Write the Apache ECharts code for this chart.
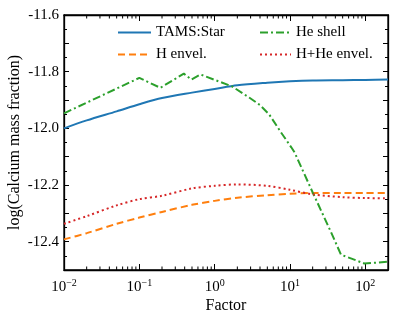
<!DOCTYPE html>
<html>
<head>
<meta charset="utf-8">
<script src="https://cdn.jsdelivr.net/npm/echarts@6/dist/echarts.min.js"></script>
<style>
  html, body { margin: 0; padding: 0; background: #fff; }
  #main { width: 396px; height: 321px; }
</style>
</head>
<body>
<div id="main"></div>
<script>
// data
var seriesNames = ['TAMS:Star', 'H envel.', 'He shell', 'H+He envel.'];
var tamsX = [0.01, 0.02, 0.05, 0.1, 0.2, 0.5, 1, 2, 5, 10, 20, 50, 100, 200];
var tamsY = [-12.0, -11.972, -11.94, -11.915, -11.893, -11.874, -11.861, -11.848, -11.839, -11.834, -11.831, -11.83, -11.829, -11.828];
var hEnvX = [0.01, 0.02, 0.05, 0.1, 0.2, 0.5, 1, 2, 5, 10, 20, 50, 100, 200];
var hEnvY = [-12.392, -12.37, -12.337, -12.315, -12.295, -12.27, -12.256, -12.245, -12.236, -12.231, -12.228, -12.228, -12.228, -12.228];
var heShellX = [0.01, 0.1, 0.19, 0.39, 0.49, 0.65, 1.7, 2.9, 4, 5.3, 7.9, 10.4, 11.5, 20, 35, 47.6, 97, 200];
var heShellY = [-11.947, -11.822, -11.857, -11.807, -11.828, -11.81, -11.852, -11.892, -11.918, -11.951, -12.021, -12.067, -12.085, -12.226, -12.366, -12.446, -12.477, -12.471];
var hHeEnvX = [0.01, 0.02, 0.05, 0.1, 0.2, 0.5, 1, 2, 5, 10, 20, 50, 100, 200];
var hHeEnvY = [-12.337, -12.31, -12.272, -12.25, -12.238, -12.212, -12.203, -12.198, -12.203, -12.217, -12.233, -12.243, -12.246, -12.247];
var yTickLabels = ['-12.4', '-12.2', '-12.0', '-11.8', '-11.6'];

var xMin = 0.01, xMax = 200, yMin = -12.5, yMax = -11.6;
var serif = 'Liberation Serif';
var colors = ['#1f77b4', '#ff7f0e', '#2ca02c', '#d62728'];

function pairs(xs, ys) {
  return xs.map(function (x, i) { return [x, ys[i]]; });
}

// minor tick positions of the log axis (2..9 in each decade)
var minorX = [];
for (var e = -2; e <= 2; e++) {
  for (var k = 2; k <= 9; k++) {
    var v = k * Math.pow(10, e);
    if (v < xMax) minorX.push([v, yMin]);
  }
}

var myChart = echarts.init(document.getElementById('main'));

function lineSeries(name, data, color, type, smooth) {
  return {
    name: name,
    type: 'line',
    data: data,
    showSymbol: false,
    symbol: 'none',
    smooth: smooth,
    color: color,
    lineStyle: { color: color, width: 2, type: type },
    z: 3
  };
}

var legendText = { fontFamily: serif, fontSize: 15, color: '#000' };

var option = {
  animation: false,
  grid: { left: 64, right: 8, top: 15, bottom: 51, outerBoundsMode: 'none', containLabel: false,
          show: true, borderColor: '#000', borderWidth: 1.3 },
  legend: [
    {
      data: ['TAMS:Star', 'H envel.'],
      orient: 'vertical', left: 112, top: 20, itemWidth: 33, itemHeight: 14, itemGap: 7,
      itemStyle: { opacity: 0 },
      textStyle: legendText
    },
    {
      data: ['He shell', 'H+He envel.'],
      orient: 'vertical', left: 254, top: 20, itemWidth: 31, itemHeight: 14, itemGap: 7,
      itemStyle: { opacity: 0 },
      textStyle: legendText
    }
  ],
  xAxis: [
    {
      type: 'log', logBase: 10, min: xMin, max: xMax,
      name: 'Factor', nameLocation: 'middle', nameGap: 28, nameMoveOverlap: false,
      nameTextStyle: { fontFamily: serif, fontSize: 16, color: '#000' },
      axisLine: { show: true, lineStyle: { color: '#000', width: 1.3 } },
      axisTick: { show: true, inside: true, length: 6, lineStyle: { color: '#000' } },
      splitLine: { show: false },
      axisLabel: {
        margin: 8, color: '#000', fontFamily: serif, fontSize: 15,
        formatter: function (val) {
          var p = Math.round(Math.log10(val));
          if (Math.abs(val / Math.pow(10, p) - 1) > 1e-6) return '';
          return '{b|10}{s|' + (p < 0 ? '\u2212' + (-p) : p) + '}';
        },
        rich: {
          b: { fontFamily: serif, fontSize: 15, color: '#000' },
          s: { fontFamily: serif, fontSize: 10, color: '#000', verticalAlign: 'bottom', padding: [0, 0, 9, 0] }
        }
      }
    },
    {
      type: 'log', logBase: 10, min: xMin, max: xMax, position: 'top',
      axisLine: { show: true, lineStyle: { color: '#000', width: 1.3 } },
      axisTick: { show: true, inside: true, length: 6, lineStyle: { color: '#000' } },
      axisLabel: { show: false },
      splitLine: { show: false }
    }
  ],
  yAxis: [
    {
      type: 'value', min: yMin, max: yMax, interval: 0.1,
      name: 'log(Calcium mass fraction)', nameLocation: 'middle', nameGap: 41, nameMoveOverlap: false,
      nameTextStyle: { fontFamily: serif, fontSize: 16, color: '#000' },
      axisLine: { show: true, lineStyle: { color: '#000', width: 1.3 } },
      axisTick: { show: true, inside: true, length: 5, lineStyle: { color: '#000' } },
      minorTick: { show: true, splitNumber: 2, length: 3, lineStyle: { color: '#000' } },
      splitLine: { show: false },
      axisLabel: {
        margin: 5, color: '#000', fontFamily: serif, fontSize: 15,
        formatter: function (val) {
          var s = val.toFixed(1);
          return yTickLabels.indexOf(s) >= 0 ? s : '';
        }
      }
    },
    {
      type: 'value', min: yMin, max: yMax, interval: 0.1, position: 'right',
      axisLine: { show: true, lineStyle: { color: '#000', width: 1.3 } },
      axisTick: { show: true, inside: true, length: 5, lineStyle: { color: '#000' } },
      minorTick: { show: true, splitNumber: 2, length: 3, lineStyle: { color: '#000' } },
      axisLabel: { show: false },
      splitLine: { show: false }
    }
  ],
  series: [
    lineSeries(seriesNames[0], pairs(tamsX, tamsY), colors[0], 'solid', 0.3),
    lineSeries(seriesNames[1], pairs(hEnvX, hEnvY), colors[1], [7, 4], 0.3),
    lineSeries(seriesNames[2], pairs(heShellX, heShellY), colors[2], [8, 3, 2, 3], false),
    lineSeries(seriesNames[3], pairs(hHeEnvX, hHeEnvY), colors[3], [2, 3], 0.3),
    {
      // minor ticks on the log axis, bottom and top
      type: 'custom',
      silent: true,
      data: minorX,
      clip: false,
      z: 5,
      renderItem: function (params, api) {
        var b = api.coord([api.value(0), yMin]);
        var t = api.coord([api.value(0), yMax]);
        var st = { stroke: '#000', lineWidth: 1 };
        return {
          type: 'group',
          children: [
            { type: 'line', shape: { x1: b[0], y1: b[1], x2: b[0], y2: b[1] - 3.5 }, style: st },
            { type: 'line', shape: { x1: t[0], y1: t[1], x2: t[0], y2: t[1] + 3.5 }, style: st }
          ]
        };
      }
    }
  ]
};
myChart.setOption(option);
</script>
</body>
</html>
